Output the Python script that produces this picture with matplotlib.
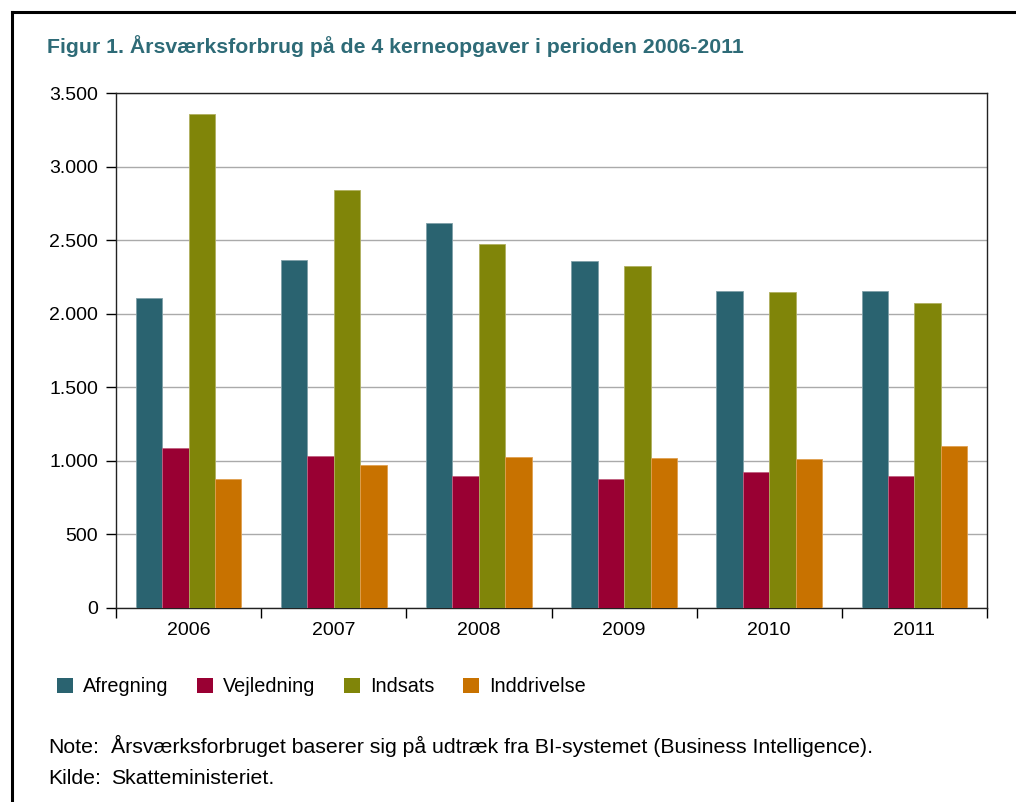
import matplotlib.pyplot as plt
import numpy as np
from matplotlib.lines import Line2D
from matplotlib.patches import Patch

plt.rcParams['font.family'] = ['Liberation Sans', 'DejaVu Sans']

years = ["2006", "2007", "2008", "2009", "2010", "2011"]
afregning = [2105, 2365, 2614, 2356, 2152, 2152]
vejledning = [1085, 1031, 897, 879, 924, 895]
indsats = [3355, 2841, 2474, 2322, 2148, 2071]
inddrivelse = [875, 972, 1026, 1017, 1010, 1099]
labels = ["Afregning", "Vejledning", "Indsats", "Inddrivelse"]
colors = ["#2A6370", "#990033", "#808509", "#C87200"]
edges = ["#7FA0A8", "#C06080", "#B0B060", "#E0A050"]

fig = plt.figure(figsize=(10.16, 8.02), dpi=100)
ax = fig.add_axes([116/1016, 1-608/802, (987-116)/1016, (608-93)/802])

x = np.arange(len(years))
w = 0.182
series = [afregning, vejledning, indsats, inddrivelse]
for i, s in enumerate(series):
    ax.bar(x + (i - 1.5)*w, s, w, color=colors[i], edgecolor=edges[i],
           linewidth=0.6, label=labels[i], zorder=3)

ax.set_xlim(-0.5, len(years) - 0.5)
ax.set_ylim(0, 3500)
ax.set_yticks(np.arange(0, 3501, 500))
ax.set_yticklabels([f"{v:,}".replace(",", ".") for v in range(0, 3501, 500)])
ax.yaxis.grid(True, color="#AAAAAA", linewidth=1.0, zorder=0)
ax.set_xticks(x)
ax.set_xticklabels(years)
ax.set_xticks(np.arange(-0.5, len(years)), minor=True)
ax.tick_params(axis='x', which='major', length=0, pad=10, labelsize=14)
ax.tick_params(axis='x', which='minor', length=7, direction='out', width=1)
ax.tick_params(axis='y', length=7, width=1, labelsize=14, pad=6)
for sp in ax.spines.values():
    sp.set_color("#222222")
    sp.set_linewidth(1.0)

fig.text(47/1016, 1-46/802, "Figur 1. Årsværksforbrug på de 4 kerneopgaver i perioden 2006-2011",
         color="#2E6B77", fontsize=15.3, fontweight='bold', va='center')

handles = [Patch(facecolor=c) for c in colors]
fig.legend(handles, labels, loc='center left', bbox_to_anchor=(57/1016, 1-687/802),
           ncol=4, frameon=False, fontsize=14.3, handlelength=0.8, handleheight=0.8,
           handletextpad=0.5, columnspacing=1.45, borderaxespad=0, borderpad=0)

fig.text(48/1016, 1-753/802, "Note:", fontsize=15.3, va='baseline')
fig.text(111/1016, 1-753/802, "Årsværksforbruget baserer sig på udtræk fra BI-systemet (Business Intelligence).",
         fontsize=15.3, va='baseline')
fig.text(48/1016, 1-784/802, "Kilde:", fontsize=15.3, va='baseline')
fig.text(111/1016, 1-784/802, "Skatteministeriet.", fontsize=15.3, va='baseline')

fig.add_artist(Line2D([12/1016, 12/1016], [0, 1-12/802], color='black', linewidth=2.2))
fig.add_artist(Line2D([12/1016, 1], [1-12/802, 1-12/802], color='black', linewidth=2.2))

fig.savefig("out.png", dpi=100)
